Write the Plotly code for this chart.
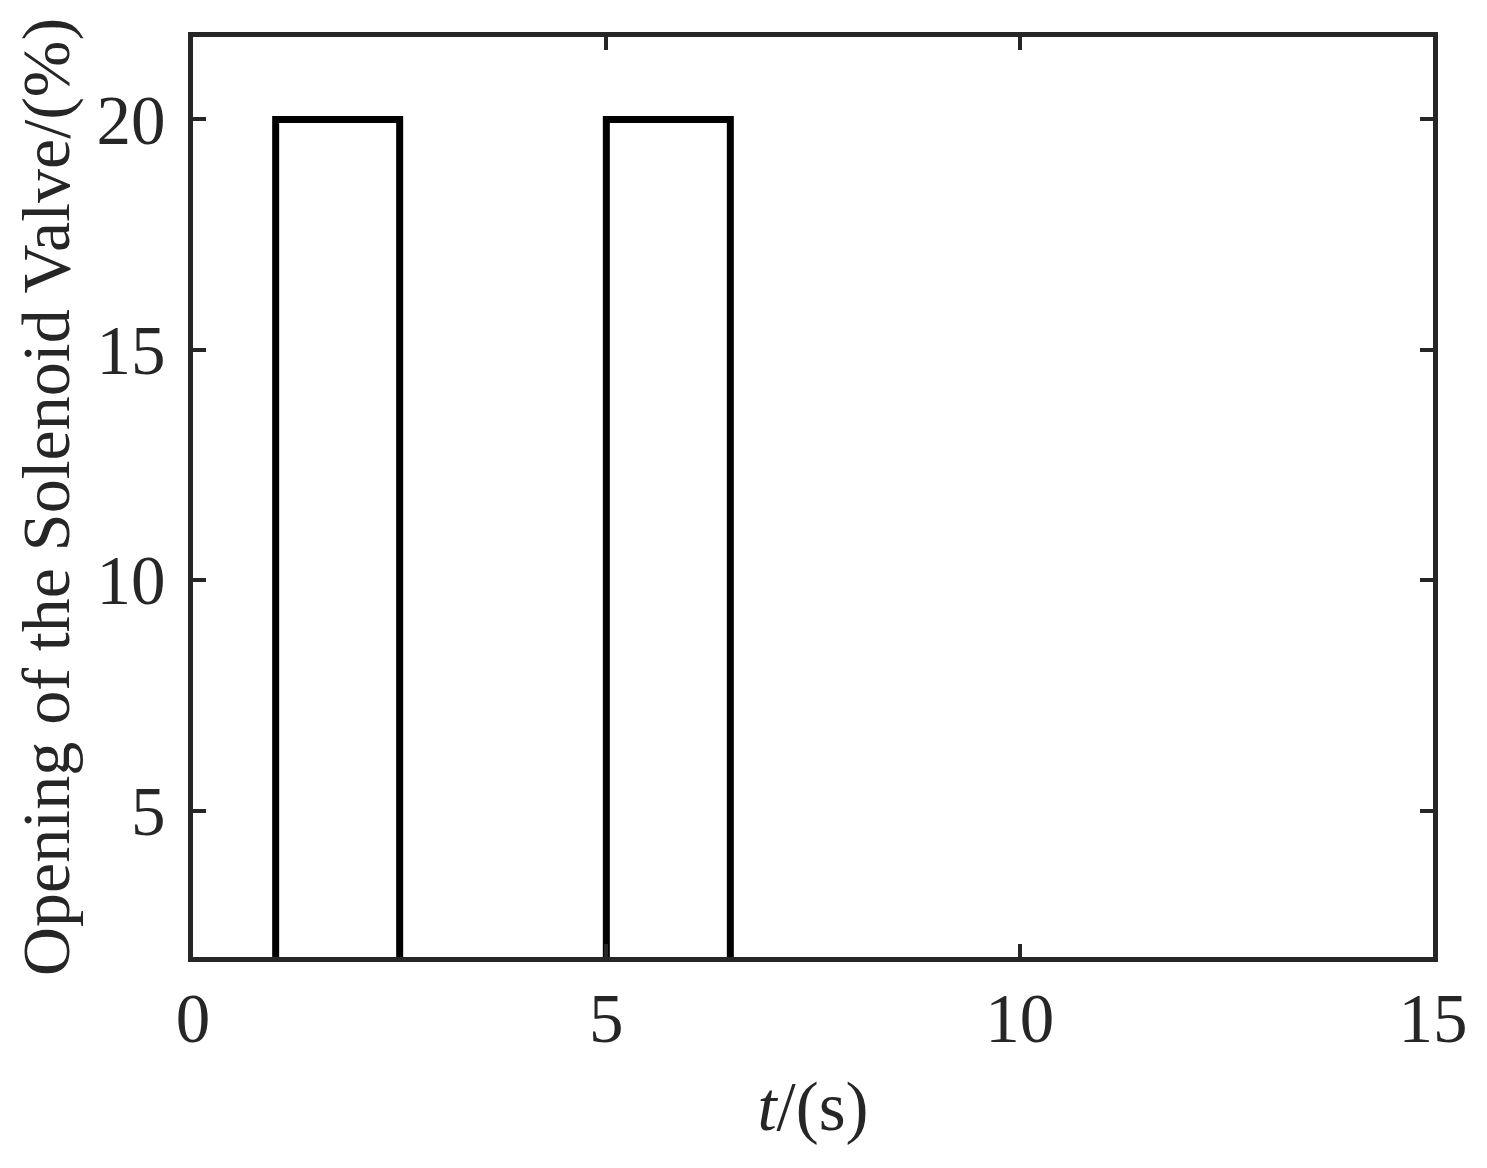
import plotly.graph_objects as go

# valve opening signal (step pulses)
t = [0, 1, 1, 2.5, 2.5, 5, 5, 6.5, 6.5, 15]
opening = [0, 0, 20, 20, 0, 0, 20, 20, 0, 0]

x_ticks = [0, 5, 10, 15]
y_ticks = [5, 10, 15, 20]

font_color = "#262626"
serif = "Liberation Serif, Times New Roman, serif"

fig = go.Figure()
fig.add_trace(go.Scatter(x=t, y=opening,
                         mode='lines',
                         line=dict(color="black", width=7),
                         showlegend=False,
                         ))

# page body has an 8px margin, so the figure is a bit smaller than the window
fig.update_layout(
    width=1479,
    height=1160,
    margin=dict(l=185, r=54, t=29, b=211),
    plot_bgcolor="white",
    paper_bgcolor="white",
    font=dict(family=serif, size=69, color=font_color),
)

fig.update_xaxes(range=[0, 15],
                 tickvals=x_ticks,
                 showgrid=False, zeroline=False,
                 showline=True, linecolor=font_color, linewidth=4.5,
                 mirror="ticks", ticks="inside", ticklen=13, tickwidth=4,
                 tickcolor=font_color,
                 ticklabelstandoff=-3,
                 title=dict(text="<i>t</i>/(s)", standoff=28,
                            font=dict(size=69)),
                 )

fig.update_yaxes(range=[1.82, 21.79],
                 tickvals=y_ticks,
                 showgrid=False, zeroline=False,
                 showline=True, linecolor=font_color, linewidth=4.5,
                 mirror="ticks", ticks="inside", ticklen=13, tickwidth=4,
                 tickcolor=font_color,
                 ticklabelstandoff=9,
                 title=dict(text="Opening of the Solenoid Valve/(%)", standoff=12,
                            font=dict(size=68)),
                 )

fig.write_html("out.html")
